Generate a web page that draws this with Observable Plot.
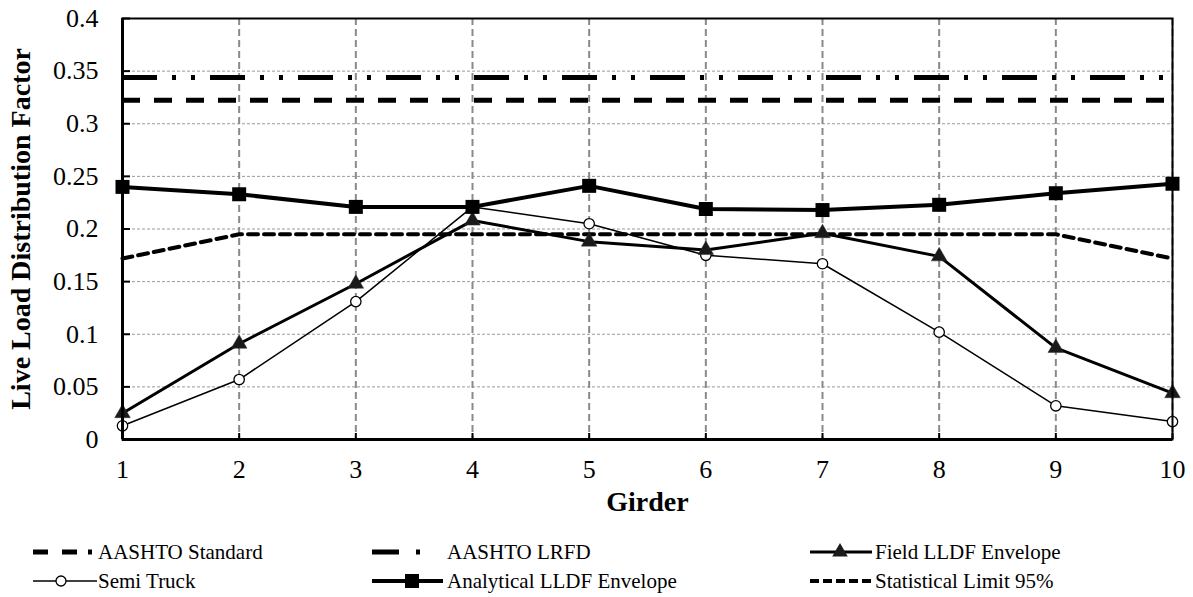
<!DOCTYPE html>
<html>
<head>
<meta charset="utf-8">
<script src="https://cdn.jsdelivr.net/npm/d3@7"></script>
<script src="https://cdn.jsdelivr.net/npm/@observablehq/plot@0.6"></script>
<style>
  body { margin: 0; background: #fff; font-family: 'Liberation Serif', 'DejaVu Serif', serif; }
  #wrap { width: 1193px; height: 597px; overflow: hidden; }
  #chart svg, #legend { display: block; }
  svg text { font-family: 'Liberation Serif', 'DejaVu Serif', serif !important; }
</style>
</head>
<body>
<div id="wrap">
  <div id="chart"></div>
  <svg id="legend" width="1193" height="77" xmlns="http://www.w3.org/2000/svg"></svg>
</div>
<script>
// ---------------- data ----------------
const girders = [1, 2, 3, 4, 5, 6, 7, 8, 9, 10];
const aashtoStandard = 0.3224;
const aashtoLRFD = 0.344;
const statLimit  = [0.172, 0.195, 0.195, 0.195, 0.195, 0.195, 0.195, 0.195, 0.195, 0.172];
const analytical = [0.240, 0.233, 0.221, 0.221, 0.241, 0.219, 0.218, 0.223, 0.234, 0.243];
const field      = [0.025, 0.091, 0.148, 0.208, 0.188, 0.180, 0.196, 0.174, 0.087, 0.044];
const semi       = [0.013, 0.057, 0.131, 0.221, 0.205, 0.175, 0.167, 0.102, 0.032, 0.017];
const yTicks = [0, 0.05, 0.1, 0.15, 0.2, 0.25, 0.3, 0.35, 0.4];
const yTickLabels = ["0", "0.05", "0.1", "0.15", "0.2", "0.25", "0.3", "0.35", "0.4"];
const xTitle = "Girder";
const yTitle = "Live Load Distribution Factor";
const seriesNames = ["AASHTO Standard", "AASHTO LRFD", "Field LLDF Envelope",
                     "Semi Truck", "Analytical LLDF Envelope", "Statistical Limit 95%"];

const rows = girders.map((g, i) => ({
  girder: g, stat: statLimit[i], analytical: analytical[i], field: field[i], semi: semi[i]
}));

const FONT = "'Liberation Serif', 'DejaVu Serif', serif";

const chart = Plot.plot({
  width: 1193,
  height: 520,
  marginLeft: 122,
  marginRight: 21,
  marginTop: 18,
  marginBottom: 81,
  style: { fontFamily: FONT, fontSize: "26px", color: "black", background: "white", overflow: "visible" },
  x: { domain: [1, 10], label: null },
  y: { domain: [0, 0.4], label: null },
  marks: [
    Plot.gridY(yTicks, { stroke: "#9a9a9a", strokeOpacity: 1, strokeWidth: 1, strokeDasharray: "3,2" }),
    Plot.gridX(girders, { stroke: "#8a8a8a", strokeOpacity: 1, strokeWidth: 2, strokeDasharray: "7,4" }),
    Plot.ruleY([aashtoLRFD], { stroke: "black", strokeWidth: 5, strokeDasharray: "35,15,4,15,4,15" }),
    Plot.ruleY([aashtoStandard], { stroke: "black", strokeWidth: 5, strokeDasharray: "18,14" }),
    Plot.line(rows, { x: "girder", y: "stat", stroke: "black", strokeWidth: 4, strokeDasharray: "10,6" }),
    Plot.line(rows, { x: "girder", y: "semi", stroke: "black", strokeWidth: 1.5 }),
    Plot.dot(rows, { x: "girder", y: "semi", r: 5.2, fill: "white", stroke: "black", strokeWidth: 1.3 }),
    Plot.line(rows, { x: "girder", y: "field", stroke: "black", strokeWidth: 3 }),
    Plot.dot(rows, { x: "girder", y: "field", symbol: "triangle", r: 5.8, fill: "#1a1a1a", stroke: "#333", strokeWidth: 0.5 }),
    Plot.line(rows, { x: "girder", y: "analytical", stroke: "black", strokeWidth: 4 }),
    Plot.dot(rows, { x: "girder", y: "analytical", symbol: "square", r: 7.9, fill: "black" }),
    Plot.frame({ stroke: "black", strokeWidth: 2 }),
    Plot.ruleX([1], { stroke: "black", strokeWidth: 3 }),
    Plot.ruleY([0], { stroke: "black", strokeWidth: 3 }),
    Plot.axisX({ ticks: girders, tickFormat: d => String(d), tickSize: -6, tickPadding: 26,
                 fontSize: 26, stroke: "black", strokeWidth: 2, label: null }),
    Plot.axisY({ ticks: yTicks, tickFormat: d => yTickLabels[yTicks.indexOf(d)], tickSize: -8, tickPadding: 32,
                 fontSize: 26, stroke: "black", strokeWidth: 2, label: null }),
    Plot.text([xTitle], { frameAnchor: "bottom", dy: 63, fontSize: 28, fontWeight: "bold", fill: "black",
                          lineAnchor: "middle", textAnchor: "middle" }),
    Plot.text([yTitle], { frameAnchor: "left", dx: -101, rotate: -90, fontSize: 28, fontWeight: "bold", fill: "black",
                          lineAnchor: "middle", textAnchor: "middle" })
  ]
});
document.getElementById("chart").appendChild(chart);

// ---------------- legend (below the chart) ----------------
const NS = "http://www.w3.org/2000/svg";
const lg = document.getElementById("legend");
function el(name, attrs, parent = lg) {
  const e = document.createElementNS(NS, name);
  for (const k in attrs) e.setAttribute(k, attrs[k]);
  parent.appendChild(e);
  return e;
}
const rowY = [32, 61];
const colX = [33, 372, 810];
const textX = [98, 447, 875];
const legendItems = [
  { name: seriesNames[0], col: 0, row: 0, kind: "std" },
  { name: seriesNames[1], col: 1, row: 0, kind: "lrfd" },
  { name: seriesNames[2], col: 2, row: 0, kind: "field" },
  { name: seriesNames[3], col: 0, row: 1, kind: "semi" },
  { name: seriesNames[4], col: 1, row: 1, kind: "analytical" },
  { name: seriesNames[5], col: 2, row: 1, kind: "stat" }
];
for (const it of legendItems) {
  const x0 = colX[it.col], y = rowY[it.row];
  if (it.kind === "std") {
    el("line", { x1: x0, x2: x0 + 62, y1: y, y2: y, stroke: "black", "stroke-width": 5, "stroke-dasharray": "15,14,15,11,4,40" });
  } else if (it.kind === "lrfd") {
    el("line", { x1: x0, x2: x0 + 48, y1: y, y2: y, stroke: "black", "stroke-width": 5, "stroke-dasharray": "27,17,4,40" });
  } else if (it.kind === "field") {
    el("line", { x1: x0, x2: x0 + 62, y1: y, y2: y, stroke: "black", "stroke-width": 3 });
    el("path", { d: d3.symbol(d3.symbolTriangle, Math.PI * 5.8 * 5.8)(), transform: `translate(${x0 + 30},${y})`, fill: "#1a1a1a" });
  } else if (it.kind === "semi") {
    el("line", { x1: x0, x2: x0 + 64, y1: y, y2: y, stroke: "black", "stroke-width": 1.5 });
    el("circle", { cx: x0 + 28, cy: y, r: 5, fill: "white", stroke: "black", "stroke-width": 1.3 });
  } else if (it.kind === "analytical") {
    el("line", { x1: x0, x2: x0 + 71, y1: y, y2: y, stroke: "black", "stroke-width": 4 });
    el("rect", { x: x0 + 33, y: y - 7, width: 14, height: 14, fill: "black" });
  } else if (it.kind === "stat") {
    el("line", { x1: x0, x2: x0 + 62, y1: y, y2: y, stroke: "black", "stroke-width": 4, "stroke-dasharray": "9,4" });
  }
  const t = el("text", { x: textX[it.col], y: y + 7, "font-size": 21, fill: "black" });
  t.textContent = it.name;
}
</script>
</body>
</html>
